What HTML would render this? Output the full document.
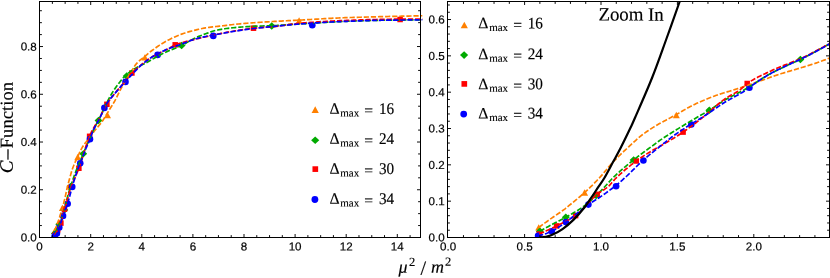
<!DOCTYPE html>
<html><head><meta charset="utf-8"><title>C-Function</title>
<style>html,body{margin:0;padding:0;background:#fff}body{width:830px;height:278px;overflow:hidden;font-family:"Liberation Sans",sans-serif}text{text-rendering:geometricPrecision;stroke:#000;stroke-width:.2px}g.s text{stroke:#000;stroke-width:.15px}svg{display:block;transform:translateZ(0);will-change:transform}</style>
</head><body>
<svg width="830" height="278" viewBox="0 0 830 278">
<defs><clipPath id="cl"><rect x="39.5" y="1.5" width="382.8" height="236"/></clipPath><clipPath id="cr"><rect x="447.5" y="1.5" width="382" height="236"/></clipPath></defs>
<rect width="830" height="278" fill="#fff"/>
<g clip-path="url(#cl)">
<path d="M54.73 227.63 L58.23 234.03 L51.23 234.03 Z" fill="#ff8000"/>
<path d="M62.41 204.70 L65.91 211.10 L58.91 211.10 Z" fill="#ff8000"/>
<path d="M77.74 153.78 L81.24 160.18 L74.24 160.18 Z" fill="#ff8000"/>
<path d="M107.50 111.90 L111.00 118.30 L104.00 118.30 Z" fill="#ff8000"/>
<path d="M144.90 54.20 L148.40 60.60 L141.40 60.60 Z" fill="#ff8000"/>
<path d="M299.10 17.30 L302.60 23.70 L295.60 23.70 Z" fill="#ff8000"/>
<path d="M54.92 229.73 L58.87 233.43 L54.92 237.13 L50.97 233.43 Z" fill="#00aa00"/>
<path d="M59.26 220.46 L63.21 224.16 L59.26 227.86 L55.31 224.16 Z" fill="#00aa00"/>
<path d="M64.35 206.27 L68.30 209.97 L64.35 213.67 L60.40 209.97 Z" fill="#00aa00"/>
<path d="M70.60 182.81 L74.55 186.51 L70.60 190.21 L66.65 186.51 Z" fill="#00aa00"/>
<path d="M83.26 150.16 L87.21 153.86 L83.26 157.56 L79.31 153.86 Z" fill="#00aa00"/>
<path d="M98.49 116.85 L102.44 120.55 L98.49 124.25 L94.54 120.55 Z" fill="#00aa00"/>
<path d="M126.70 72.30 L130.65 76.00 L126.70 79.70 L122.75 76.00 Z" fill="#00aa00"/>
<path d="M181.60 41.80 L185.55 45.50 L181.60 49.20 L177.65 45.50 Z" fill="#00aa00"/>
<path d="M271.70 22.30 L275.65 26.00 L271.70 29.70 L267.75 26.00 Z" fill="#00aa00"/>
<rect x="52.07" y="232.45" width="5.50" height="5.50" fill="#ff0000"/>
<rect x="54.98" y="227.13" width="5.50" height="5.50" fill="#ff0000"/>
<rect x="58.15" y="220.36" width="5.50" height="5.50" fill="#ff0000"/>
<rect x="61.76" y="206.37" width="5.50" height="5.50" fill="#ff0000"/>
<rect x="68.30" y="184.49" width="5.50" height="5.50" fill="#ff0000"/>
<rect x="76.13" y="165.50" width="5.50" height="5.50" fill="#ff0000"/>
<rect x="86.85" y="133.57" width="5.50" height="5.50" fill="#ff0000"/>
<rect x="104.15" y="101.55" width="5.50" height="5.50" fill="#ff0000"/>
<rect x="129.15" y="70.25" width="5.50" height="5.50" fill="#ff0000"/>
<rect x="172.45" y="42.05" width="5.50" height="5.50" fill="#ff0000"/>
<rect x="250.75" y="25.45" width="5.50" height="5.50" fill="#ff0000"/>
<rect x="397.35" y="16.75" width="5.50" height="5.50" fill="#ff0000"/>
<circle cx="54.63" cy="236.32" r="3.30" fill="#0000ff"/>
<circle cx="56.91" cy="233.43" r="3.30" fill="#0000ff"/>
<circle cx="59.26" cy="227.38" r="3.30" fill="#0000ff"/>
<circle cx="63.04" cy="215.88" r="3.30" fill="#0000ff"/>
<circle cx="67.67" cy="203.79" r="3.30" fill="#0000ff"/>
<circle cx="72.24" cy="186.91" r="3.30" fill="#0000ff"/>
<circle cx="80.25" cy="163.26" r="3.30" fill="#0000ff"/>
<circle cx="89.96" cy="139.14" r="3.30" fill="#0000ff"/>
<circle cx="104.40" cy="107.90" r="3.30" fill="#0000ff"/>
<circle cx="125.50" cy="81.90" r="3.30" fill="#0000ff"/>
<circle cx="157.60" cy="54.90" r="3.30" fill="#0000ff"/>
<circle cx="213.30" cy="35.90" r="3.30" fill="#0000ff"/>
<circle cx="312.30" cy="25.30" r="3.30" fill="#0000ff"/>
<path d="M54.73 230.93 L55.25 229.44 L55.77 227.96 L56.28 226.50 L56.80 225.05 L57.32 223.65 L57.83 222.28 L58.35 220.90 L58.87 219.46 L59.39 217.90 L59.90 216.22 L60.42 214.56 L60.94 212.92 L61.45 211.25 L61.97 209.52 L62.49 207.72 L63.00 205.82 L63.52 203.85 L64.04 201.81 L64.55 199.70 L65.07 197.52 L65.59 195.17 L66.11 192.72 L66.62 190.31 L67.14 188.03 L67.66 185.92 L68.17 183.89 L68.69 181.92 L69.21 180.01 L69.72 178.13 L70.24 176.25 L70.76 174.38 L71.28 172.57 L71.79 170.86 L72.31 169.30 L72.83 167.84 L73.34 166.48 L73.86 165.19 L74.38 163.95 L74.89 162.76 L75.41 161.64 L75.93 160.55 L76.44 159.47 L76.96 158.39 L77.48 157.31 L78.00 156.19 L78.51 155.01 L79.03 153.81 L79.55 152.62 L80.06 151.49 L80.58 150.46 L81.10 149.48 L81.61 148.55 L82.13 147.65 L82.65 146.79 L83.17 145.97 L83.68 145.18 L84.20 144.42 L84.72 143.72 L85.23 143.05 L85.75 142.42 L86.27 141.80 L86.78 141.19 L87.30 140.57 L87.82 139.93 L88.33 139.26 L88.85 138.59 L89.37 137.90 L89.89 137.21 L90.40 136.51 L90.92 135.81 L91.44 135.11 L91.95 134.39 L92.47 133.67 L92.99 132.94 L93.50 132.21 L94.02 131.50 L94.54 130.80 L95.05 130.14 L95.57 129.50 L96.09 128.89 L96.61 128.29 L97.12 127.69 L97.64 127.10 L98.16 126.50 L98.67 125.88 L99.19 125.27 L99.71 124.65 L100.22 124.02 L100.74 123.36 L101.26 122.67 L101.78 121.95 L102.29 121.21 L102.81 120.45 L103.33 119.67 L103.84 118.87 L104.36 118.06 L104.88 117.23 L105.39 116.38 L105.91 115.53 L106.43 114.67 L106.94 113.80 L107.46 112.93 L107.98 112.06 L108.50 111.20 L109.01 110.34 L109.53 109.49 L110.05 108.65 L110.56 107.82 L111.08 107.00 L111.60 106.19 L112.11 105.37 L112.63 104.54 L113.15 103.71 L113.67 102.85 L114.18 101.98 L114.70 101.08 L115.22 100.15 L115.73 99.18 L116.25 98.15 L117.97 94.56 L119.69 91.17 L121.41 87.91 L123.13 84.85 L124.85 81.97 L126.57 79.19 L128.29 76.47 L130.01 73.84 L131.73 71.11 L133.45 68.02 L135.17 65.20 L136.90 63.17 L138.62 61.49 L140.34 59.94 L142.06 58.54 L143.78 57.21 L145.50 55.79 L147.22 54.29 L148.94 52.87 L150.66 51.53 L152.38 50.25 L154.10 49.00 L155.82 47.76 L157.54 46.54 L159.26 45.36 L160.98 44.24 L162.70 43.20 L164.42 42.20 L166.14 41.23 L167.86 40.31 L169.58 39.42 L171.30 38.57 L173.02 37.76 L174.75 36.97 L176.47 36.21 L178.19 35.48 L179.91 34.78 L181.63 34.13 L183.35 33.52 L185.07 32.95 L186.79 32.42 L188.51 31.91 L190.23 31.43 L191.95 30.98 L193.67 30.53 L195.39 30.10 L197.11 29.67 L198.83 29.25 L200.55 28.85 L202.27 28.47 L203.99 28.13 L205.71 27.83 L207.43 27.57 L209.15 27.33 L210.87 27.12 L212.60 26.92 L214.32 26.73 L216.04 26.54 L217.76 26.35 L219.48 26.16 L221.20 25.96 L222.92 25.76 L224.64 25.55 L226.36 25.34 L228.08 25.14 L229.80 24.93 L231.52 24.73 L233.24 24.53 L234.96 24.34 L236.68 24.16 L238.40 23.98 L240.12 23.81 L241.84 23.66 L243.56 23.51 L245.28 23.37 L247.00 23.23 L248.72 23.10 L250.45 22.97 L252.17 22.84 L253.89 22.72 L255.61 22.60 L257.33 22.49 L259.05 22.38 L260.77 22.26 L262.49 22.16 L264.21 22.05 L265.93 21.94 L267.65 21.84 L269.37 21.74 L271.09 21.64 L272.81 21.53 L274.53 21.43 L276.25 21.33 L277.97 21.24 L279.69 21.14 L281.41 21.05 L283.13 20.96 L284.85 20.87 L286.57 20.78 L288.30 20.70 L290.02 20.61 L291.74 20.52 L293.46 20.44 L295.18 20.35 L296.90 20.26 L298.62 20.17 L300.34 20.08 L302.06 19.99 L303.78 19.89 L305.50 19.79 L307.22 19.69 L308.94 19.59 L310.66 19.49 L312.38 19.39 L314.10 19.28 L315.82 19.18 L317.54 19.07 L319.26 18.97 L320.98 18.87 L322.70 18.77 L324.42 18.67 L326.15 18.57 L327.87 18.48 L329.59 18.38 L331.31 18.29 L333.03 18.21 L334.75 18.13 L336.47 18.05 L338.19 17.97 L339.91 17.90 L341.63 17.84 L343.35 17.77 L345.07 17.71 L346.79 17.65 L348.51 17.59 L350.23 17.53 L351.95 17.48 L353.67 17.42 L355.39 17.37 L357.11 17.32 L358.83 17.27 L360.55 17.22 L362.27 17.17 L364.00 17.12 L365.72 17.07 L367.44 17.03 L369.16 16.98 L370.88 16.94 L372.60 16.89 L374.32 16.85 L376.04 16.80 L377.76 16.76 L379.48 16.71 L381.20 16.67 L382.92 16.63 L384.64 16.58 L386.36 16.54 L388.08 16.50 L389.80 16.46 L391.52 16.42 L393.24 16.38 L394.96 16.34 L396.68 16.30 L398.40 16.26 L400.12 16.22 L401.85 16.19 L403.57 16.15 L405.29 16.11 L407.01 16.08 L408.73 16.04 L410.45 16.00 L412.17 15.97 L413.89 15.93 L415.61 15.89 L417.33 15.86 L419.05 15.82 L420.77 15.78 L422.49 15.75 L424.21 15.71 L425.93 15.68 L427.65 15.64 L429.37 15.60 L431.09 15.57 L432.81 15.53 L434.53 15.50 L436.25 15.46 L437.97 15.43 L439.70 15.39 L441.42 15.36 L443.14 15.33 L444.86 15.29 L446.58 15.26 L448.30 15.22 L450.02 15.19 L451.74 15.16 L453.46 15.12 L455.18 15.09 L456.90 15.06 L458.62 15.03" fill="none" stroke="#ff8000" stroke-width="1.68" stroke-dasharray="5.2 1.9"/>
<path d="M54.92 233.43 L55.43 232.28 L55.95 231.14 L56.46 230.02 L56.98 228.91 L57.49 227.84 L58.01 226.78 L58.52 225.73 L59.04 224.65 L59.56 223.53 L60.07 222.40 L60.59 221.25 L61.10 220.04 L61.62 218.75 L62.13 217.34 L62.65 215.82 L63.16 214.18 L63.68 212.45 L64.19 210.63 L64.71 208.65 L65.22 206.50 L65.74 204.30 L66.26 202.10 L66.77 199.86 L67.29 197.77 L67.80 195.85 L68.32 194.01 L68.83 192.24 L69.35 190.53 L69.86 188.86 L70.38 187.22 L70.89 185.60 L71.41 184.04 L71.93 182.53 L72.44 181.04 L72.96 179.56 L73.47 178.07 L73.99 176.57 L74.50 175.09 L75.02 173.65 L75.53 172.26 L76.05 170.92 L76.56 169.63 L77.08 168.37 L77.59 167.12 L78.11 165.87 L78.63 164.63 L79.14 163.40 L79.66 162.18 L80.17 160.98 L80.69 159.77 L81.20 158.58 L81.72 157.41 L82.23 156.25 L82.75 155.07 L83.26 153.85 L83.78 152.55 L84.29 151.20 L84.81 149.83 L85.33 148.49 L85.84 147.23 L86.36 146.08 L86.87 145.00 L87.39 143.97 L87.90 142.95 L88.42 141.91 L88.93 140.83 L89.45 139.67 L89.96 138.43 L90.48 137.14 L91.00 135.83 L91.51 134.51 L92.03 133.21 L92.54 131.96 L93.06 130.79 L93.57 129.68 L94.09 128.62 L94.60 127.59 L95.12 126.59 L95.63 125.61 L96.15 124.65 L96.66 123.70 L97.18 122.77 L97.70 121.89 L98.21 121.00 L98.73 120.04 L99.24 119.03 L99.76 117.98 L100.27 116.91 L100.79 115.82 L101.30 114.71 L101.82 113.59 L102.33 112.47 L102.85 111.35 L103.36 110.24 L103.88 109.12 L104.40 107.97 L104.91 106.81 L105.43 105.66 L105.94 104.52 L106.46 103.42 L106.97 102.35 L107.49 101.34 L108.00 100.34 L108.52 99.35 L109.03 98.39 L109.55 97.44 L110.07 96.52 L110.58 95.61 L111.10 94.72 L111.61 93.85 L112.13 93.00 L112.64 92.17 L113.16 91.36 L113.67 90.56 L114.19 89.78 L114.70 89.01 L115.22 88.25 L115.73 87.51 L116.25 86.78 L117.97 84.44 L119.69 82.22 L121.41 80.07 L123.13 78.04 L124.85 76.21 L126.57 74.63 L128.29 73.19 L130.01 71.85 L131.73 70.62 L133.45 69.47 L135.17 68.39 L136.90 67.40 L138.62 66.50 L140.34 65.64 L142.06 64.82 L143.78 63.99 L145.50 63.14 L147.22 62.23 L148.94 61.26 L150.66 60.25 L152.38 59.24 L154.10 58.23 L155.82 57.25 L157.54 56.31 L159.26 55.39 L160.98 54.49 L162.70 53.60 L164.42 52.74 L166.14 51.91 L167.86 51.12 L169.58 50.39 L171.30 49.72 L173.02 49.09 L174.75 48.47 L176.47 47.82 L178.19 47.12 L179.91 46.36 L181.63 45.54 L183.35 44.64 L185.07 43.67 L186.79 42.65 L188.51 41.62 L190.23 40.60 L191.95 39.62 L193.67 38.70 L195.39 37.87 L197.11 37.10 L198.83 36.39 L200.55 35.70 L202.27 35.04 L203.99 34.40 L205.71 33.77 L207.43 33.13 L209.15 32.47 L210.87 31.84 L212.60 31.26 L214.32 30.77 L216.04 30.37 L217.76 30.01 L219.48 29.67 L221.20 29.35 L222.92 29.06 L224.64 28.79 L226.36 28.54 L228.08 28.31 L229.80 28.11 L231.52 27.92 L233.24 27.74 L234.96 27.58 L236.68 27.42 L238.40 27.27 L240.12 27.13 L241.84 26.99 L243.56 26.87 L245.28 26.75 L247.00 26.64 L248.72 26.54 L250.45 26.44 L252.17 26.36 L253.89 26.28 L255.61 26.21 L257.33 26.15 L259.05 26.09 L260.77 26.04 L262.49 26.00 L264.21 25.95 L265.93 25.90 L267.65 25.85 L269.37 25.79 L271.09 25.73 L272.81 25.66 L274.53 25.57 L276.25 25.48 L277.97 25.38 L279.69 25.28 L281.41 25.17 L283.13 25.06 L284.85 24.94 L286.57 24.82 L288.30 24.70 L290.02 24.57 L291.74 24.45 L293.46 24.33 L295.18 24.21 L296.90 24.10 L298.62 23.99 L300.34 23.88 L302.06 23.77 L303.78 23.67 L305.50 23.56 L307.22 23.45 L308.94 23.34 L310.66 23.24 L312.38 23.13 L314.10 23.02 L315.82 22.91 L317.54 22.80 L319.26 22.70 L320.98 22.59 L322.70 22.49 L324.42 22.39 L326.15 22.29 L327.87 22.20 L329.59 22.10 L331.31 22.01 L333.03 21.92 L334.75 21.84 L336.47 21.76 L338.19 21.68 L339.91 21.60 L341.63 21.53 L343.35 21.46 L345.07 21.39 L346.79 21.32 L348.51 21.26 L350.23 21.19 L351.95 21.12 L353.67 21.06 L355.39 20.99 L357.11 20.93 L358.83 20.87 L360.55 20.81 L362.27 20.76 L364.00 20.70 L365.72 20.65 L367.44 20.60 L369.16 20.55 L370.88 20.50 L372.60 20.46 L374.32 20.42 L376.04 20.38 L377.76 20.34 L379.48 20.31 L381.20 20.28 L382.92 20.25 L384.64 20.22 L386.36 20.20 L388.08 20.17 L389.80 20.15 L391.52 20.12 L393.24 20.10 L394.96 20.08 L396.68 20.06 L398.40 20.04 L400.12 20.02 L401.85 20.00 L403.57 19.98 L405.29 19.96 L407.01 19.95 L408.73 19.93 L410.45 19.91 L412.17 19.89 L413.89 19.87 L415.61 19.85 L417.33 19.83 L419.05 19.81 L420.77 19.79 L422.49 19.77 L424.21 19.75 L425.93 19.73 L427.65 19.70 L429.37 19.68 L431.09 19.66 L432.81 19.64 L434.53 19.62 L436.25 19.60 L437.97 19.58 L439.70 19.55 L441.42 19.53 L443.14 19.51 L444.86 19.49 L446.58 19.47 L448.30 19.45 L450.02 19.42 L451.74 19.40 L453.46 19.38 L455.18 19.36 L456.90 19.34 L458.62 19.32" fill="none" stroke="#00aa00" stroke-width="1.68" stroke-dasharray="5.2 1.9"/>
<path d="M54.82 235.20 L55.33 234.32 L55.85 233.41 L56.37 232.47 L56.88 231.51 L57.40 230.52 L57.91 229.51 L58.43 228.52 L58.95 227.53 L59.46 226.50 L59.98 225.39 L60.50 224.18 L61.01 222.80 L61.53 221.11 L62.04 219.10 L62.56 216.91 L63.08 214.66 L63.59 212.46 L64.11 210.45 L64.63 208.73 L65.14 207.33 L65.66 206.04 L66.17 204.60 L66.69 202.71 L67.21 200.41 L67.72 198.22 L68.24 196.31 L68.76 194.49 L69.27 192.74 L69.79 191.07 L70.30 189.46 L70.82 187.91 L71.34 186.43 L71.85 185.02 L72.37 183.67 L72.89 182.38 L73.40 181.13 L73.92 179.92 L74.43 178.80 L74.95 177.68 L75.47 176.50 L75.98 175.32 L76.50 174.12 L77.02 172.91 L77.53 171.66 L78.05 170.39 L78.56 169.07 L79.08 167.71 L79.60 166.28 L80.11 164.80 L80.63 163.28 L81.15 161.72 L81.66 160.15 L82.18 158.55 L82.69 156.88 L83.21 155.13 L83.73 153.34 L84.24 151.57 L84.76 149.84 L85.28 148.19 L85.79 146.67 L86.31 145.33 L86.82 144.16 L87.34 143.04 L87.86 141.86 L88.37 140.52 L88.89 138.80 L89.41 136.90 L89.92 135.46 L90.44 134.19 L90.95 133.04 L91.47 131.98 L91.99 130.98 L92.50 130.01 L93.02 129.05 L93.54 128.11 L94.05 127.20 L94.57 126.32 L95.08 125.47 L95.60 124.64 L96.12 123.82 L96.63 123.00 L97.15 122.20 L97.67 121.43 L98.18 120.63 L98.70 119.75 L99.21 118.79 L99.73 117.77 L100.25 116.71 L100.76 115.62 L101.28 114.52 L101.80 113.42 L102.31 112.34 L102.83 111.29 L103.34 110.30 L103.86 109.33 L104.38 108.36 L104.89 107.42 L105.41 106.49 L105.93 105.59 L106.44 104.73 L106.96 103.91 L107.47 103.12 L107.99 102.36 L108.51 101.61 L109.02 100.87 L109.54 100.16 L110.06 99.45 L110.57 98.76 L111.09 98.09 L111.60 97.42 L112.12 96.76 L112.64 96.11 L113.15 95.46 L113.67 94.82 L114.19 94.18 L114.70 93.55 L115.22 92.92 L115.73 92.28 L116.25 91.65 L117.97 89.62 L119.69 87.68 L121.41 85.77 L123.13 83.85 L124.85 81.88 L126.57 79.80 L128.29 77.58 L130.01 75.38 L131.73 73.38 L133.45 71.62 L135.17 69.99 L136.90 68.45 L138.62 66.98 L140.34 65.56 L142.06 64.17 L143.78 62.82 L145.50 61.50 L147.22 60.24 L148.94 59.04 L150.66 57.90 L152.38 56.83 L154.10 55.82 L155.82 54.85 L157.54 53.93 L159.26 53.05 L160.98 52.23 L162.70 51.43 L164.42 50.63 L166.14 49.83 L167.86 48.98 L169.58 48.05 L171.30 47.01 L173.02 45.97 L174.75 45.11 L176.47 44.44 L178.19 43.82 L179.91 43.26 L181.63 42.74 L183.35 42.25 L185.07 41.79 L186.79 41.35 L188.51 40.92 L190.23 40.50 L191.95 40.08 L193.67 39.66 L195.39 39.23 L197.11 38.79 L198.83 38.36 L200.55 37.93 L202.27 37.52 L203.99 37.11 L205.71 36.70 L207.43 36.31 L209.15 35.92 L210.87 35.54 L212.60 35.17 L214.32 34.81 L216.04 34.45 L217.76 34.10 L219.48 33.76 L221.20 33.42 L222.92 33.09 L224.64 32.76 L226.36 32.44 L228.08 32.13 L229.80 31.83 L231.52 31.53 L233.24 31.24 L234.96 30.94 L236.68 30.65 L238.40 30.35 L240.12 30.07 L241.84 29.78 L243.56 29.51 L245.28 29.25 L247.00 28.99 L248.72 28.76 L250.45 28.54 L252.17 28.33 L253.89 28.15 L255.61 27.99 L257.33 27.84 L259.05 27.70 L260.77 27.57 L262.49 27.45 L264.21 27.33 L265.93 27.22 L267.65 27.10 L269.37 26.98 L271.09 26.84 L272.81 26.70 L274.53 26.55 L276.25 26.37 L277.97 26.17 L279.69 25.95 L281.41 25.72 L283.13 25.47 L284.85 25.22 L286.57 24.96 L288.30 24.70 L290.02 24.44 L291.74 24.19 L293.46 23.95 L295.18 23.72 L296.90 23.51 L298.62 23.33 L300.34 23.17 L302.06 23.02 L303.78 22.88 L305.50 22.74 L307.22 22.61 L308.94 22.48 L310.66 22.35 L312.38 22.23 L314.10 22.11 L315.82 21.99 L317.54 21.88 L319.26 21.77 L320.98 21.67 L322.70 21.57 L324.42 21.47 L326.15 21.37 L327.87 21.28 L329.59 21.19 L331.31 21.10 L333.03 21.02 L334.75 20.94 L336.47 20.86 L338.19 20.78 L339.91 20.70 L341.63 20.63 L343.35 20.56 L345.07 20.49 L346.79 20.42 L348.51 20.35 L350.23 20.28 L351.95 20.22 L353.67 20.16 L355.39 20.09 L357.11 20.03 L358.83 19.97 L360.55 19.92 L362.27 19.86 L364.00 19.81 L365.72 19.75 L367.44 19.70 L369.16 19.66 L370.88 19.61 L372.60 19.57 L374.32 19.52 L376.04 19.48 L377.76 19.45 L379.48 19.41 L381.20 19.38 L382.92 19.34 L384.64 19.31 L386.36 19.28 L388.08 19.25 L389.80 19.22 L391.52 19.20 L393.24 19.17 L394.96 19.15 L396.68 19.13 L398.40 19.11 L400.12 19.10 L401.85 19.09 L403.57 19.08 L405.29 19.07 L407.01 19.06 L408.73 19.05 L410.45 19.05 L412.17 19.04 L413.89 19.03 L415.61 19.02 L417.33 19.02 L419.05 19.01 L420.77 18.99 L422.49 18.98 L424.21 18.97 L425.93 18.96 L427.65 18.95 L429.37 18.93 L431.09 18.92 L432.81 18.90 L434.53 18.89 L436.25 18.87 L437.97 18.85 L439.70 18.84 L441.42 18.82 L443.14 18.80 L444.86 18.78 L446.58 18.76 L448.30 18.75 L450.02 18.73 L451.74 18.70 L453.46 18.68 L455.18 18.66 L456.90 18.64 L458.62 18.62" fill="none" stroke="#ff0000" stroke-width="1.68" stroke-dasharray="5.2 1.9"/>
<path d="M54.63 236.32 L55.15 235.89 L55.67 235.30 L56.19 234.58 L56.70 233.77 L57.22 232.83 L57.74 231.63 L58.26 230.24 L58.77 228.77 L59.29 227.30 L59.81 225.81 L60.33 224.24 L60.85 222.61 L61.36 220.96 L61.88 219.33 L62.40 217.74 L62.92 216.24 L63.43 214.83 L63.95 213.52 L64.47 212.24 L64.99 210.93 L65.51 209.55 L66.02 208.11 L66.54 206.63 L67.06 205.09 L67.58 203.51 L68.10 201.85 L68.61 200.12 L69.13 198.32 L69.65 196.44 L70.17 194.46 L70.68 192.44 L71.20 190.42 L71.72 188.45 L72.24 186.59 L72.76 184.83 L73.27 183.15 L73.79 181.50 L74.31 179.88 L74.83 178.25 L75.34 176.61 L75.86 174.96 L76.38 173.35 L76.90 171.78 L77.42 170.30 L77.93 168.87 L78.45 167.49 L78.97 166.14 L79.49 164.83 L80.00 163.53 L80.52 162.26 L81.04 161.05 L81.56 159.84 L82.08 158.58 L82.59 157.25 L83.11 155.88 L83.63 154.49 L84.15 153.09 L84.66 151.70 L85.18 150.34 L85.70 149.03 L86.22 147.79 L86.74 146.63 L87.25 145.51 L87.77 144.41 L88.29 143.28 L88.81 142.08 L89.32 140.77 L89.84 139.24 L90.36 137.77 L90.88 136.33 L91.40 134.93 L91.91 133.57 L92.43 132.27 L92.95 131.04 L93.47 129.88 L93.98 128.79 L94.50 127.76 L95.02 126.76 L95.54 125.78 L96.06 124.83 L96.57 123.87 L97.09 122.92 L97.61 122.01 L98.13 121.09 L98.64 120.13 L99.16 119.13 L99.68 118.13 L100.20 117.10 L100.72 116.06 L101.23 114.99 L101.75 113.89 L102.27 112.76 L102.79 111.59 L103.31 110.37 L103.82 108.96 L104.34 107.55 L104.86 106.50 L105.38 105.58 L105.89 104.74 L106.41 103.97 L106.93 103.25 L107.45 102.55 L107.97 101.85 L108.48 101.14 L109.00 100.46 L109.52 99.80 L110.04 99.15 L110.55 98.51 L111.07 97.88 L111.59 97.27 L112.11 96.66 L112.63 96.06 L113.14 95.47 L113.66 94.87 L114.18 94.28 L114.70 93.68 L115.21 93.08 L115.73 92.48 L116.25 91.87 L117.97 89.86 L119.69 87.85 L121.41 85.87 L123.13 83.92 L124.85 82.01 L126.57 80.16 L128.29 78.37 L130.01 76.61 L131.73 74.84 L133.45 73.02 L135.17 71.18 L136.90 69.36 L138.62 67.59 L140.34 65.91 L142.06 64.37 L143.78 62.93 L145.50 61.56 L147.22 60.27 L148.94 59.05 L150.66 57.90 L152.38 56.82 L154.10 55.81 L155.82 54.85 L157.54 53.93 L159.26 53.02 L160.98 52.13 L162.70 51.26 L164.42 50.43 L166.14 49.64 L167.86 48.90 L169.58 48.22 L171.30 47.61 L173.02 47.04 L174.75 46.48 L176.47 45.92 L178.19 45.33 L179.91 44.70 L181.63 44.05 L183.35 43.37 L185.07 42.68 L186.79 42.00 L188.51 41.33 L190.23 40.69 L191.95 40.08 L193.67 39.52 L195.39 39.02 L197.11 38.55 L198.83 38.11 L200.55 37.69 L202.27 37.28 L203.99 36.89 L205.71 36.52 L207.43 36.16 L209.15 35.82 L210.87 35.48 L212.60 35.15 L214.32 34.83 L216.04 34.55 L217.76 34.27 L219.48 33.99 L221.20 33.68 L222.92 33.36 L224.64 33.02 L226.36 32.68 L228.08 32.35 L229.80 32.03 L231.52 31.73 L233.24 31.45 L234.96 31.17 L236.68 30.91 L238.40 30.64 L240.12 30.39 L241.84 30.14 L243.56 29.89 L245.28 29.65 L247.00 29.42 L248.72 29.19 L250.45 28.97 L252.17 28.75 L253.89 28.54 L255.61 28.34 L257.33 28.14 L259.05 27.94 L260.77 27.75 L262.49 27.57 L264.21 27.39 L265.93 27.21 L267.65 27.03 L269.37 26.86 L271.09 26.69 L272.81 26.52 L274.53 26.35 L276.25 26.18 L277.97 26.00 L279.69 25.83 L281.41 25.66 L283.13 25.49 L284.85 25.33 L286.57 25.16 L288.30 25.00 L290.02 24.84 L291.74 24.68 L293.46 24.53 L295.18 24.38 L296.90 24.24 L298.62 24.10 L300.34 23.98 L302.06 23.85 L303.78 23.72 L305.50 23.60 L307.22 23.48 L308.94 23.36 L310.66 23.24 L312.38 23.13 L314.10 23.01 L315.82 22.90 L317.54 22.79 L319.26 22.69 L320.98 22.58 L322.70 22.48 L324.42 22.38 L326.15 22.28 L327.87 22.19 L329.59 22.10 L331.31 22.01 L333.03 21.92 L334.75 21.84 L336.47 21.76 L338.19 21.68 L339.91 21.60 L341.63 21.53 L343.35 21.46 L345.07 21.39 L346.79 21.32 L348.51 21.25 L350.23 21.18 L351.95 21.12 L353.67 21.05 L355.39 20.99 L357.11 20.93 L358.83 20.87 L360.55 20.81 L362.27 20.75 L364.00 20.70 L365.72 20.65 L367.44 20.60 L369.16 20.55 L370.88 20.50 L372.60 20.46 L374.32 20.42 L376.04 20.38 L377.76 20.34 L379.48 20.31 L381.20 20.28 L382.92 20.25 L384.64 20.22 L386.36 20.20 L388.08 20.17 L389.80 20.15 L391.52 20.12 L393.24 20.10 L394.96 20.08 L396.68 20.06 L398.40 20.04 L400.12 20.02 L401.85 20.00 L403.57 19.98 L405.29 19.96 L407.01 19.95 L408.73 19.93 L410.45 19.91 L412.17 19.89 L413.89 19.87 L415.61 19.85 L417.33 19.83 L419.05 19.81 L420.77 19.79 L422.49 19.77 L424.21 19.75 L425.93 19.73 L427.65 19.70 L429.37 19.68 L431.09 19.66 L432.81 19.64 L434.53 19.62 L436.25 19.60 L437.97 19.58 L439.70 19.55 L441.42 19.53 L443.14 19.51 L444.86 19.49 L446.58 19.47 L448.30 19.45 L450.02 19.42 L451.74 19.40 L453.46 19.38 L455.18 19.36 L456.90 19.34 L458.62 19.32" fill="none" stroke="#0000ff" stroke-width="1.68" stroke-dasharray="5.2 1.9"/>
</g>
<g clip-path="url(#cr)">
<path d="M538.70 224.20 L542.20 230.60 L535.20 230.60 Z" fill="#ff8000"/>
<path d="M584.60 189.30 L588.10 195.70 L581.10 195.70 Z" fill="#ff8000"/>
<path d="M676.30 111.80 L679.80 118.20 L672.80 118.20 Z" fill="#ff8000"/>
<path d="M854.27 48.06 L857.77 54.46 L850.77 54.46 Z" fill="#ff8000"/>
<path d="M539.80 227.60 L543.75 231.30 L539.80 235.00 L535.85 231.30 Z" fill="#00aa00"/>
<path d="M565.80 213.50 L569.75 217.20 L565.80 220.90 L561.85 217.20 Z" fill="#00aa00"/>
<path d="M596.20 191.90 L600.15 195.60 L596.20 199.30 L592.25 195.60 Z" fill="#00aa00"/>
<path d="M633.60 156.20 L637.55 159.90 L633.60 163.60 L629.65 159.90 Z" fill="#00aa00"/>
<path d="M709.30 106.50 L713.25 110.20 L709.30 113.90 L705.35 110.20 Z" fill="#00aa00"/>
<path d="M800.40 55.80 L804.35 59.50 L800.40 63.20 L796.45 59.50 Z" fill="#00aa00"/>
<path d="M969.10 -12.00 L973.05 -8.30 L969.10 -4.60 L965.15 -8.30 Z" fill="#00aa00"/>
<rect x="536.45" y="231.25" width="5.50" height="5.50" fill="#ff0000"/>
<rect x="553.85" y="223.15" width="5.50" height="5.50" fill="#ff0000"/>
<rect x="572.85" y="212.85" width="5.50" height="5.50" fill="#ff0000"/>
<rect x="594.45" y="191.55" width="5.50" height="5.50" fill="#ff0000"/>
<rect x="633.55" y="158.25" width="5.50" height="5.50" fill="#ff0000"/>
<rect x="680.35" y="129.35" width="5.50" height="5.50" fill="#ff0000"/>
<rect x="744.45" y="80.75" width="5.50" height="5.50" fill="#ff0000"/>
<rect x="847.93" y="32.02" width="5.50" height="5.50" fill="#ff0000"/>
<circle cx="538.10" cy="235.70" r="3.30" fill="#0000ff"/>
<circle cx="551.70" cy="231.30" r="3.30" fill="#0000ff"/>
<circle cx="565.80" cy="222.10" r="3.30" fill="#0000ff"/>
<circle cx="588.40" cy="204.60" r="3.30" fill="#0000ff"/>
<circle cx="616.10" cy="186.20" r="3.30" fill="#0000ff"/>
<circle cx="643.40" cy="160.50" r="3.30" fill="#0000ff"/>
<circle cx="691.30" cy="124.50" r="3.30" fill="#0000ff"/>
<circle cx="749.40" cy="87.80" r="3.30" fill="#0000ff"/>
<circle cx="835.73" cy="40.25" r="3.30" fill="#0000ff"/>
<path d="M538.70 227.50 L539.88 226.63 L541.07 225.76 L542.25 224.89 L543.44 224.03 L544.62 223.17 L545.81 222.31 L546.99 221.46 L548.18 220.61 L549.36 219.77 L550.54 218.92 L551.73 218.09 L552.91 217.27 L554.10 216.46 L555.28 215.66 L556.47 214.86 L557.65 214.07 L558.84 213.27 L560.02 212.46 L561.21 211.64 L562.39 210.80 L563.57 209.94 L564.76 209.06 L565.94 208.13 L567.13 207.18 L568.31 206.20 L569.50 205.22 L570.68 204.24 L571.87 203.28 L573.05 202.31 L574.23 201.35 L575.42 200.39 L576.60 199.43 L577.79 198.46 L578.97 197.47 L580.16 196.48 L581.34 195.47 L582.53 194.45 L583.71 193.40 L584.89 192.33 L586.08 191.24 L587.26 190.14 L588.45 189.02 L589.63 187.88 L590.82 186.72 L592.00 185.55 L593.19 184.36 L594.37 183.16 L595.55 181.94 L596.74 180.71 L597.92 179.47 L599.11 178.21 L600.29 176.92 L601.48 175.58 L602.66 174.21 L603.85 172.80 L605.03 171.38 L606.22 169.95 L607.40 168.53 L608.58 167.11 L609.77 165.71 L610.95 164.35 L612.14 163.03 L613.32 161.76 L614.51 160.52 L615.69 159.30 L616.88 158.10 L618.06 156.91 L619.24 155.74 L620.43 154.59 L621.61 153.45 L622.80 152.32 L623.98 151.20 L625.17 150.09 L626.35 148.99 L627.54 147.89 L628.72 146.80 L629.90 145.70 L631.09 144.60 L632.27 143.51 L633.46 142.42 L634.64 141.34 L635.83 140.27 L637.01 139.22 L638.20 138.19 L639.38 137.19 L640.57 136.21 L641.75 135.26 L642.93 134.35 L644.12 133.47 L645.30 132.61 L646.49 131.78 L647.67 130.96 L648.86 130.16 L650.04 129.38 L651.23 128.62 L652.41 127.86 L653.59 127.13 L654.78 126.40 L655.96 125.68 L657.15 124.97 L658.33 124.28 L659.52 123.60 L660.70 122.94 L661.89 122.29 L663.07 121.66 L664.25 121.02 L665.44 120.40 L666.62 119.77 L667.81 119.14 L668.99 118.50 L670.18 117.87 L671.36 117.24 L672.55 116.61 L673.73 115.98 L674.92 115.35 L676.10 114.71 L677.28 114.05 L678.47 113.38 L679.65 112.69 L680.84 112.00 L682.02 111.30 L683.21 110.59 L684.39 109.89 L685.58 109.19 L686.76 108.50 L687.94 107.83 L689.13 107.16 L690.31 106.52 L691.50 105.90 L692.68 105.31 L693.87 104.73 L695.05 104.16 L696.24 103.60 L697.42 103.05 L698.60 102.51 L699.79 101.97 L700.97 101.44 L702.16 100.92 L703.34 100.41 L704.53 99.91 L705.71 99.41 L706.90 98.93 L708.08 98.45 L709.26 97.98 L710.45 97.51 L711.63 97.06 L712.82 96.61 L714.00 96.17 L715.19 95.74 L716.37 95.33 L717.56 94.92 L718.74 94.52 L719.93 94.13 L721.11 93.75 L722.29 93.38 L723.48 93.01 L724.66 92.64 L725.85 92.28 L727.03 91.92 L728.22 91.57 L729.40 91.21 L730.59 90.85 L731.77 90.49 L732.95 90.13 L734.14 89.76 L735.32 89.39 L736.51 89.02 L737.69 88.63 L738.88 88.24 L740.06 87.85 L741.25 87.46 L742.43 87.06 L743.61 86.66 L744.80 86.26 L745.98 85.86 L747.17 85.45 L748.35 85.05 L749.54 84.64 L750.72 84.24 L751.91 83.83 L753.09 83.42 L754.28 83.01 L755.46 82.60 L756.64 82.20 L757.83 81.79 L759.01 81.37 L760.20 80.96 L761.38 80.54 L762.57 80.12 L763.75 79.69 L764.94 79.27 L766.12 78.84 L767.30 78.42 L768.49 77.99 L769.67 77.57 L770.86 77.15 L772.04 76.73 L773.23 76.31 L774.41 75.90 L775.60 75.50 L776.78 75.10 L777.96 74.70 L779.15 74.32 L780.33 73.94 L781.52 73.56 L782.70 73.20 L783.89 72.83 L785.07 72.48 L786.26 72.12 L787.44 71.77 L788.63 71.42 L789.81 71.07 L790.99 70.73 L792.18 70.38 L793.36 70.04 L794.55 69.69 L795.73 69.35 L796.92 69.00 L798.10 68.65 L799.29 68.29 L800.47 67.93 L801.65 67.57 L802.84 67.21 L804.02 66.85 L805.21 66.49 L806.39 66.13 L807.58 65.77 L808.76 65.40 L809.95 65.04 L811.13 64.66 L812.31 64.28 L813.50 63.90 L814.68 63.51 L815.87 63.11 L817.05 62.70 L818.24 62.28 L819.42 61.86 L820.61 61.43 L821.79 61.00 L822.97 60.56 L824.16 60.12 L825.34 59.68 L826.53 59.23 L827.71 58.77 L828.90 58.32 L830.08 57.86 L831.27 57.39 L832.45 56.93 L833.64 56.45 L834.82 55.98 L836.00 55.50 L837.19 55.02 L838.37 54.53 L839.56 54.04 L840.74 53.55 L841.93 53.06 L843.11 52.56 L844.30 52.06 L845.48 51.56" fill="none" stroke="#ff8000" stroke-width="1.68" stroke-dasharray="5.2 1.9"/>
<path d="M539.80 231.30 L540.98 230.63 L542.16 229.96 L543.34 229.29 L544.52 228.63 L545.70 227.97 L546.88 227.31 L548.06 226.66 L549.24 226.01 L550.42 225.36 L551.60 224.72 L552.78 224.08 L553.96 223.45 L555.14 222.83 L556.32 222.21 L557.50 221.60 L558.68 220.99 L559.86 220.38 L561.04 219.76 L562.22 219.14 L563.40 218.51 L564.58 217.87 L565.77 217.22 L566.95 216.56 L568.13 215.91 L569.31 215.25 L570.49 214.60 L571.67 213.93 L572.85 213.26 L574.03 212.58 L575.21 211.89 L576.39 211.18 L577.57 210.45 L578.75 209.70 L579.93 208.92 L581.11 208.13 L582.29 207.30 L583.47 206.45 L584.65 205.57 L585.83 204.66 L587.01 203.73 L588.19 202.78 L589.37 201.80 L590.55 200.80 L591.73 199.79 L592.91 198.75 L594.09 197.69 L595.27 196.61 L596.45 195.50 L597.63 194.34 L598.81 193.13 L599.99 191.89 L601.17 190.62 L602.35 189.34 L603.53 188.05 L604.71 186.77 L605.89 185.50 L607.07 184.22 L608.25 182.91 L609.43 181.59 L610.61 180.29 L611.79 179.03 L612.97 177.82 L614.15 176.67 L615.33 175.54 L616.52 174.43 L617.70 173.34 L618.88 172.27 L620.06 171.21 L621.24 170.17 L622.42 169.14 L623.60 168.13 L624.78 167.13 L625.96 166.14 L627.14 165.15 L628.32 164.18 L629.50 163.21 L630.68 162.25 L631.86 161.30 L633.04 160.35 L634.22 159.41 L635.40 158.48 L636.58 157.56 L637.76 156.65 L638.94 155.76 L640.12 154.87 L641.30 153.99 L642.48 153.12 L643.66 152.25 L644.84 151.39 L646.02 150.53 L647.20 149.67 L648.38 148.80 L649.56 147.93 L650.74 147.06 L651.92 146.19 L653.10 145.32 L654.28 144.45 L655.46 143.58 L656.64 142.72 L657.82 141.87 L659.00 141.03 L660.18 140.19 L661.36 139.37 L662.54 138.57 L663.72 137.78 L664.90 137.00 L666.08 136.23 L667.27 135.47 L668.45 134.72 L669.63 133.97 L670.81 133.23 L671.99 132.50 L673.17 131.77 L674.35 131.04 L675.53 130.31 L676.71 129.59 L677.89 128.86 L679.07 128.14 L680.25 127.41 L681.43 126.69 L682.61 125.97 L683.79 125.26 L684.97 124.54 L686.15 123.83 L687.33 123.12 L688.51 122.42 L689.69 121.71 L690.87 121.01 L692.05 120.31 L693.23 119.61 L694.41 118.91 L695.59 118.21 L696.77 117.52 L697.95 116.83 L699.13 116.15 L700.31 115.47 L701.49 114.80 L702.67 114.12 L703.85 113.44 L705.03 112.75 L706.21 112.06 L707.39 111.36 L708.57 110.65 L709.75 109.92 L710.93 109.17 L712.11 108.41 L713.29 107.63 L714.47 106.84 L715.65 106.04 L716.83 105.24 L718.01 104.44 L719.20 103.65 L720.38 102.86 L721.56 102.09 L722.74 101.34 L723.92 100.61 L725.10 99.90 L726.28 99.22 L727.46 98.56 L728.64 97.92 L729.82 97.29 L731.00 96.67 L732.18 96.06 L733.36 95.46 L734.54 94.87 L735.72 94.27 L736.90 93.68 L738.08 93.08 L739.26 92.48 L740.44 91.86 L741.62 91.24 L742.80 90.60 L743.98 89.95 L745.16 89.28 L746.34 88.59 L747.52 87.88 L748.70 87.16 L749.88 86.42 L751.06 85.67 L752.24 84.92 L753.42 84.15 L754.60 83.39 L755.78 82.62 L756.96 81.85 L758.14 81.08 L759.32 80.31 L760.50 79.56 L761.68 78.81 L762.86 78.07 L764.04 77.34 L765.22 76.63 L766.40 75.93 L767.58 75.26 L768.76 74.60 L769.95 73.96 L771.13 73.32 L772.31 72.70 L773.49 72.08 L774.67 71.47 L775.85 70.87 L777.03 70.27 L778.21 69.69 L779.39 69.10 L780.57 68.53 L781.75 67.96 L782.93 67.39 L784.11 66.82 L785.29 66.26 L786.47 65.70 L787.65 65.15 L788.83 64.60 L790.01 64.04 L791.19 63.50 L792.37 62.97 L793.55 62.45 L794.73 61.94 L795.91 61.43 L797.09 60.91 L798.27 60.39 L799.45 59.85 L800.63 59.29 L801.81 58.72 L802.99 58.13 L804.17 57.54 L805.35 56.95 L806.53 56.34 L807.71 55.73 L808.89 55.11 L810.07 54.48 L811.25 53.85 L812.43 53.22 L813.61 52.58 L814.79 51.94 L815.97 51.29 L817.15 50.64 L818.33 49.99 L819.51 49.34 L820.70 48.69 L821.88 48.03 L823.06 47.38 L824.24 46.73 L825.42 46.08 L826.60 45.43 L827.78 44.78 L828.96 44.13 L830.14 43.49 L831.32 42.83 L832.50 42.17 L833.68 41.51 L834.86 40.84 L836.04 40.17 L837.22 39.49 L838.40 38.82 L839.58 38.14 L840.76 37.47 L841.94 36.80 L843.12 36.13 L844.30 35.47 L845.48 34.82" fill="none" stroke="#00aa00" stroke-width="1.68" stroke-dasharray="5.2 1.9"/>
<path d="M539.20 234.00 L540.38 233.49 L541.57 232.97 L542.75 232.45 L543.93 231.92 L545.11 231.39 L546.30 230.85 L547.48 230.30 L548.66 229.75 L549.84 229.19 L551.03 228.63 L552.21 228.06 L553.39 227.49 L554.57 226.91 L555.76 226.32 L556.94 225.73 L558.12 225.15 L559.30 224.57 L560.49 223.99 L561.67 223.42 L562.85 222.84 L564.03 222.26 L565.22 221.67 L566.40 221.06 L567.58 220.44 L568.76 219.80 L569.95 219.15 L571.13 218.46 L572.31 217.75 L573.49 217.01 L574.68 216.23 L575.86 215.42 L577.04 214.52 L578.22 213.54 L579.41 212.48 L580.59 211.36 L581.77 210.17 L582.95 208.94 L584.14 207.67 L585.32 206.38 L586.50 205.07 L587.68 203.75 L588.87 202.44 L590.05 201.14 L591.23 199.87 L592.41 198.64 L593.60 197.45 L594.78 196.32 L595.96 195.25 L597.14 194.26 L598.33 193.36 L599.51 192.53 L600.69 191.75 L601.88 190.99 L603.06 190.24 L604.24 189.48 L605.42 188.68 L606.61 187.82 L607.79 186.88 L608.97 185.82 L610.15 184.61 L611.34 183.31 L612.52 181.95 L613.70 180.59 L614.88 179.26 L616.07 178.02 L617.25 176.89 L618.43 175.78 L619.61 174.69 L620.80 173.61 L621.98 172.55 L623.16 171.51 L624.34 170.49 L625.53 169.48 L626.71 168.49 L627.89 167.51 L629.07 166.55 L630.26 165.61 L631.44 164.68 L632.62 163.76 L633.80 162.86 L634.99 161.97 L636.17 161.10 L637.35 160.24 L638.53 159.39 L639.72 158.57 L640.90 157.75 L642.08 156.95 L643.26 156.17 L644.45 155.40 L645.63 154.63 L646.81 153.88 L647.99 153.14 L649.18 152.41 L650.36 151.69 L651.54 150.97 L652.72 150.27 L653.91 149.59 L655.09 148.94 L656.27 148.29 L657.45 147.65 L658.64 147.00 L659.82 146.33 L661.00 145.65 L662.19 144.96 L663.37 144.27 L664.55 143.58 L665.73 142.89 L666.92 142.20 L668.10 141.50 L669.28 140.80 L670.46 140.09 L671.65 139.38 L672.83 138.66 L674.01 137.94 L675.19 137.21 L676.38 136.47 L677.56 135.72 L678.74 134.97 L679.92 134.20 L681.11 133.43 L682.29 132.64 L683.47 131.85 L684.65 131.04 L685.84 130.21 L687.02 129.38 L688.20 128.53 L689.38 127.67 L690.57 126.79 L691.75 125.91 L692.93 125.02 L694.11 124.12 L695.30 123.22 L696.48 122.31 L697.66 121.39 L698.84 120.47 L700.03 119.55 L701.21 118.62 L702.39 117.69 L703.57 116.74 L704.76 115.77 L705.94 114.77 L707.12 113.76 L708.30 112.74 L709.49 111.71 L710.67 110.67 L711.85 109.63 L713.03 108.59 L714.22 107.55 L715.40 106.52 L716.58 105.50 L717.76 104.50 L718.95 103.51 L720.13 102.55 L721.31 101.61 L722.49 100.69 L723.68 99.81 L724.86 98.97 L726.04 98.16 L727.23 97.41 L728.41 96.69 L729.59 96.01 L730.77 95.34 L731.96 94.69 L733.14 94.04 L734.32 93.38 L735.50 92.71 L736.69 92.00 L737.87 91.27 L739.05 90.49 L740.23 89.65 L741.42 88.70 L742.60 87.62 L743.78 86.49 L744.96 85.36 L746.15 84.31 L747.33 83.41 L748.51 82.61 L749.69 81.83 L750.88 81.09 L752.06 80.37 L753.24 79.68 L754.42 79.01 L755.61 78.36 L756.79 77.73 L757.97 77.12 L759.15 76.52 L760.34 75.94 L761.52 75.36 L762.70 74.79 L763.88 74.23 L765.07 73.67 L766.25 73.12 L767.43 72.56 L768.61 72.00 L769.80 71.44 L770.98 70.90 L772.16 70.37 L773.34 69.84 L774.53 69.32 L775.71 68.81 L776.89 68.30 L778.07 67.80 L779.26 67.31 L780.44 66.82 L781.62 66.33 L782.80 65.85 L783.99 65.37 L785.17 64.89 L786.35 64.41 L787.54 63.94 L788.72 63.46 L789.90 62.98 L791.08 62.51 L792.27 62.05 L793.45 61.60 L794.63 61.16 L795.81 60.71 L797.00 60.25 L798.18 59.78 L799.36 59.29 L800.54 58.77 L801.73 58.24 L802.91 57.69 L804.09 57.12 L805.27 56.55 L806.46 55.96 L807.64 55.35 L808.82 54.74 L810.00 54.12 L811.19 53.49 L812.37 52.86 L813.55 52.23 L814.73 51.58 L815.92 50.94 L817.10 50.30 L818.28 49.66 L819.46 49.02 L820.65 48.38 L821.83 47.75 L823.01 47.12 L824.19 46.51 L825.38 45.90 L826.56 45.30 L827.74 44.71 L828.92 44.13 L830.11 43.57 L831.29 43.00 L832.47 42.44 L833.65 41.87 L834.84 41.31 L836.02 40.75 L837.20 40.20 L838.38 39.65 L839.57 39.10 L840.75 38.56 L841.93 38.03 L843.11 37.50 L844.30 36.98 L845.48 36.46" fill="none" stroke="#ff0000" stroke-width="1.68" stroke-dasharray="5.2 1.9"/>
<path d="M538.10 235.70 L539.29 235.49 L540.47 235.23 L541.66 234.94 L542.85 234.61 L544.03 234.24 L545.22 233.85 L546.41 233.43 L547.59 232.98 L548.78 232.52 L549.97 232.03 L551.15 231.53 L552.34 231.01 L553.53 230.42 L554.72 229.77 L555.90 229.06 L557.09 228.30 L558.28 227.51 L559.46 226.68 L560.65 225.83 L561.84 224.97 L563.02 224.10 L564.21 223.24 L565.40 222.39 L566.58 221.54 L567.77 220.68 L568.96 219.79 L570.14 218.89 L571.33 217.97 L572.52 217.03 L573.70 216.09 L574.89 215.14 L576.08 214.18 L577.26 213.22 L578.45 212.26 L579.64 211.30 L580.82 210.35 L582.01 209.41 L583.20 208.47 L584.39 207.56 L585.57 206.66 L586.76 205.78 L587.95 204.92 L589.13 204.09 L590.32 203.28 L591.51 202.50 L592.69 201.73 L593.88 200.98 L595.07 200.23 L596.25 199.48 L597.44 198.73 L598.63 197.97 L599.81 197.21 L601.00 196.42 L602.19 195.62 L603.37 194.79 L604.56 193.96 L605.75 193.11 L606.93 192.26 L608.12 191.39 L609.31 190.52 L610.49 189.64 L611.68 188.74 L612.87 187.83 L614.05 186.91 L615.24 185.98 L616.43 185.04 L617.62 184.07 L618.80 183.09 L619.99 182.09 L621.18 181.07 L622.36 180.03 L623.55 178.99 L624.74 177.93 L625.92 176.85 L627.11 175.75 L628.30 174.62 L629.48 173.48 L630.67 172.32 L631.86 171.14 L633.04 169.96 L634.23 168.78 L635.42 167.60 L636.60 166.42 L637.79 165.26 L638.98 164.10 L640.16 162.97 L641.35 161.86 L642.54 160.77 L643.72 159.71 L644.91 158.68 L646.10 157.67 L647.29 156.67 L648.47 155.68 L649.66 154.71 L650.85 153.74 L652.03 152.79 L653.22 151.84 L654.41 150.89 L655.59 149.94 L656.78 149.00 L657.97 148.05 L659.15 147.09 L660.34 146.14 L661.53 145.18 L662.71 144.21 L663.90 143.25 L665.09 142.30 L666.27 141.35 L667.46 140.41 L668.65 139.48 L669.83 138.56 L671.02 137.66 L672.21 136.77 L673.39 135.90 L674.58 135.05 L675.77 134.21 L676.96 133.39 L678.14 132.57 L679.33 131.76 L680.52 130.96 L681.70 130.17 L682.89 129.39 L684.08 128.61 L685.26 127.84 L686.45 127.08 L687.64 126.32 L688.82 125.57 L690.01 124.81 L691.20 124.07 L692.38 123.33 L693.57 122.60 L694.76 121.89 L695.94 121.19 L697.13 120.49 L698.32 119.78 L699.50 119.07 L700.69 118.34 L701.88 117.60 L703.06 116.84 L704.25 116.07 L705.44 115.28 L706.62 114.49 L707.81 113.69 L709.00 112.88 L710.19 112.07 L711.37 111.26 L712.56 110.44 L713.75 109.62 L714.93 108.81 L716.12 108.00 L717.31 107.19 L718.49 106.39 L719.68 105.59 L720.87 104.81 L722.05 104.03 L723.24 103.27 L724.43 102.52 L725.61 101.78 L726.80 101.07 L727.99 100.38 L729.17 99.70 L730.36 99.04 L731.55 98.39 L732.73 97.74 L733.92 97.10 L735.11 96.46 L736.29 95.81 L737.48 95.16 L738.67 94.50 L739.86 93.82 L741.04 93.13 L742.23 92.42 L743.42 91.69 L744.60 90.93 L745.79 90.14 L746.98 89.27 L748.16 88.34 L749.35 87.44 L750.54 86.59 L751.72 85.74 L752.91 84.90 L754.10 84.06 L755.28 83.23 L756.47 82.41 L757.66 81.59 L758.84 80.79 L760.03 80.00 L761.22 79.21 L762.40 78.45 L763.59 77.69 L764.78 76.95 L765.96 76.23 L767.15 75.52 L768.34 74.84 L769.53 74.17 L770.71 73.51 L771.90 72.87 L773.09 72.24 L774.27 71.62 L775.46 71.02 L776.65 70.42 L777.83 69.83 L779.02 69.25 L780.21 68.68 L781.39 68.11 L782.58 67.54 L783.77 66.98 L784.95 66.42 L786.14 65.86 L787.33 65.31 L788.51 64.75 L789.70 64.19 L790.89 63.63 L792.07 63.09 L793.26 62.55 L794.45 62.02 L795.63 61.49 L796.82 60.96 L798.01 60.42 L799.19 59.87 L800.38 59.31 L801.57 58.73 L802.76 58.15 L803.94 57.57 L805.13 56.99 L806.32 56.40 L807.50 55.82 L808.69 55.22 L809.88 54.63 L811.06 54.02 L812.25 53.42 L813.44 52.81 L814.62 52.19 L815.81 51.57 L817.00 50.94 L818.18 50.30 L819.37 49.66 L820.56 49.01 L821.74 48.35 L822.93 47.68 L824.12 47.00 L825.30 46.32 L826.49 45.62 L827.68 44.92 L828.86 44.20 L830.05 43.45 L831.24 42.63 L832.43 41.76 L833.61 40.90 L834.80 40.09 L835.99 39.37 L837.17 38.75 L838.36 38.17 L839.55 37.61 L840.73 37.08 L841.92 36.56 L843.11 36.07 L844.29 35.59 L845.48 35.13" fill="none" stroke="#0000ff" stroke-width="1.68" stroke-dasharray="5.2 1.9"/>
<path d="M539.90 237.50 C540.83 237.38 543.53 237.20 545.50 236.80 C547.47 236.40 548.87 236.38 551.70 235.10 C554.53 233.82 558.88 231.63 562.50 229.10 C566.12 226.57 569.78 223.47 573.40 219.90 C577.02 216.33 581.15 211.52 584.20 207.70 C587.25 203.88 589.37 200.42 591.70 197.00 C594.03 193.58 596.07 190.40 598.20 187.20 C600.33 184.00 602.03 181.98 604.50 177.80 C606.97 173.62 610.32 167.07 613.00 162.10 C615.68 157.13 617.77 153.55 620.60 148.00 C623.43 142.45 627.62 133.80 630.00 128.80 C632.38 123.80 631.23 126.47 634.90 118.00 C638.57 109.53 646.82 91.00 652.00 78.00 C657.18 65.00 661.38 52.75 666.00 40.00 C670.62 27.25 676.70 9.83 679.70 1.50 C682.70 -6.83 683.28 -8.08 684.00 -10.00" fill="none" stroke="#000" stroke-width="2.2"/>
</g>
<rect x="39.5" y="1.5" width="381.0" height="236.0" fill="none" stroke="#000" stroke-width="1"/>
<rect x="447.5" y="1.5" width="382.0" height="236.0" fill="none" stroke="#000" stroke-width="1"/>
<path d="M52.38 237.50 v-2.40 M52.38 1.50 v2.40 M65.15 237.50 v-2.40 M65.15 1.50 v2.40 M77.93 237.50 v-2.40 M77.93 1.50 v2.40 M90.70 237.50 v-3.50 M90.70 1.50 v3.50 M103.47 237.50 v-2.40 M103.47 1.50 v2.40 M116.25 237.50 v-2.40 M116.25 1.50 v2.40 M129.03 237.50 v-2.40 M129.03 1.50 v2.40 M141.80 237.50 v-3.50 M141.80 1.50 v3.50 M154.58 237.50 v-2.40 M154.58 1.50 v2.40 M167.35 237.50 v-2.40 M167.35 1.50 v2.40 M180.12 237.50 v-2.40 M180.12 1.50 v2.40 M192.90 237.50 v-3.50 M192.90 1.50 v3.50 M205.68 237.50 v-2.40 M205.68 1.50 v2.40 M218.45 237.50 v-2.40 M218.45 1.50 v2.40 M231.22 237.50 v-2.40 M231.22 1.50 v2.40 M244.00 237.50 v-3.50 M244.00 1.50 v3.50 M256.78 237.50 v-2.40 M256.78 1.50 v2.40 M269.55 237.50 v-2.40 M269.55 1.50 v2.40 M282.32 237.50 v-2.40 M282.32 1.50 v2.40 M295.10 237.50 v-3.50 M295.10 1.50 v3.50 M307.88 237.50 v-2.40 M307.88 1.50 v2.40 M320.65 237.50 v-2.40 M320.65 1.50 v2.40 M333.43 237.50 v-2.40 M333.43 1.50 v2.40 M346.20 237.50 v-3.50 M346.20 1.50 v3.50 M358.98 237.50 v-2.40 M358.98 1.50 v2.40 M371.75 237.50 v-2.40 M371.75 1.50 v2.40 M384.53 237.50 v-2.40 M384.53 1.50 v2.40 M397.30 237.50 v-3.50 M397.30 1.50 v3.50 M410.08 237.50 v-2.40 M410.08 1.50 v2.40 M39.50 225.56 h2.40 M420.50 225.56 h-2.40 M39.50 213.63 h2.40 M420.50 213.63 h-2.40 M39.50 201.69 h2.40 M420.50 201.69 h-2.40 M39.50 189.76 h3.50 M420.50 189.76 h-3.50 M39.50 177.82 h2.40 M420.50 177.82 h-2.40 M39.50 165.89 h2.40 M420.50 165.89 h-2.40 M39.50 153.95 h2.40 M420.50 153.95 h-2.40 M39.50 142.02 h3.50 M420.50 142.02 h-3.50 M39.50 130.09 h2.40 M420.50 130.09 h-2.40 M39.50 118.15 h2.40 M420.50 118.15 h-2.40 M39.50 106.22 h2.40 M420.50 106.22 h-2.40 M39.50 94.28 h3.50 M420.50 94.28 h-3.50 M39.50 82.34 h2.40 M420.50 82.34 h-2.40 M39.50 70.41 h2.40 M420.50 70.41 h-2.40 M39.50 58.48 h2.40 M420.50 58.48 h-2.40 M39.50 46.54 h3.50 M420.50 46.54 h-3.50 M39.50 34.60 h2.40 M420.50 34.60 h-2.40 M39.50 22.67 h2.40 M420.50 22.67 h-2.40 M39.50 10.73 h2.40 M420.50 10.73 h-2.40" stroke="#000" stroke-width="0.95" fill="none"/>
<path d="M463.48 237.50 v-2.40 M463.48 1.50 v2.40 M478.76 237.50 v-2.40 M478.76 1.50 v2.40 M494.04 237.50 v-2.40 M494.04 1.50 v2.40 M509.32 237.50 v-2.40 M509.32 1.50 v2.40 M524.60 237.50 v-3.50 M524.60 1.50 v3.50 M539.88 237.50 v-2.40 M539.88 1.50 v2.40 M555.16 237.50 v-2.40 M555.16 1.50 v2.40 M570.44 237.50 v-2.40 M570.44 1.50 v2.40 M585.72 237.50 v-2.40 M585.72 1.50 v2.40 M601.00 237.50 v-3.50 M601.00 1.50 v3.50 M616.28 237.50 v-2.40 M616.28 1.50 v2.40 M631.56 237.50 v-2.40 M631.56 1.50 v2.40 M646.84 237.50 v-2.40 M646.84 1.50 v2.40 M662.12 237.50 v-2.40 M662.12 1.50 v2.40 M677.40 237.50 v-3.50 M677.40 1.50 v3.50 M692.68 237.50 v-2.40 M692.68 1.50 v2.40 M707.96 237.50 v-2.40 M707.96 1.50 v2.40 M723.24 237.50 v-2.40 M723.24 1.50 v2.40 M738.52 237.50 v-2.40 M738.52 1.50 v2.40 M753.80 237.50 v-3.50 M753.80 1.50 v3.50 M769.08 237.50 v-2.40 M769.08 1.50 v2.40 M784.36 237.50 v-2.40 M784.36 1.50 v2.40 M799.64 237.50 v-2.40 M799.64 1.50 v2.40 M814.92 237.50 v-2.40 M814.92 1.50 v2.40 M447.50 230.23 h2.40 M829.50 230.23 h-2.40 M447.50 222.97 h2.40 M829.50 222.97 h-2.40 M447.50 215.70 h2.40 M829.50 215.70 h-2.40 M447.50 208.44 h2.40 M829.50 208.44 h-2.40 M447.50 201.17 h3.50 M829.50 201.17 h-3.50 M447.50 193.90 h2.40 M829.50 193.90 h-2.40 M447.50 186.64 h2.40 M829.50 186.64 h-2.40 M447.50 179.37 h2.40 M829.50 179.37 h-2.40 M447.50 172.11 h2.40 M829.50 172.11 h-2.40 M447.50 164.84 h3.50 M829.50 164.84 h-3.50 M447.50 157.57 h2.40 M829.50 157.57 h-2.40 M447.50 150.31 h2.40 M829.50 150.31 h-2.40 M447.50 143.04 h2.40 M829.50 143.04 h-2.40 M447.50 135.78 h2.40 M829.50 135.78 h-2.40 M447.50 128.51 h3.50 M829.50 128.51 h-3.50 M447.50 121.24 h2.40 M829.50 121.24 h-2.40 M447.50 113.98 h2.40 M829.50 113.98 h-2.40 M447.50 106.71 h2.40 M829.50 106.71 h-2.40 M447.50 99.45 h2.40 M829.50 99.45 h-2.40 M447.50 92.18 h3.50 M829.50 92.18 h-3.50 M447.50 84.91 h2.40 M829.50 84.91 h-2.40 M447.50 77.65 h2.40 M829.50 77.65 h-2.40 M447.50 70.38 h2.40 M829.50 70.38 h-2.40 M447.50 63.12 h2.40 M829.50 63.12 h-2.40 M447.50 55.85 h3.50 M829.50 55.85 h-3.50 M447.50 48.58 h2.40 M829.50 48.58 h-2.40 M447.50 41.32 h2.40 M829.50 41.32 h-2.40 M447.50 34.05 h2.40 M829.50 34.05 h-2.40 M447.50 26.79 h2.40 M829.50 26.79 h-2.40 M447.50 19.52 h3.50 M829.50 19.52 h-3.50 M447.50 12.25 h2.40 M829.50 12.25 h-2.40 M447.50 4.99 h2.40 M829.50 4.99 h-2.40" stroke="#000" stroke-width="0.95" fill="none"/>
<g font-family="'Liberation Sans', sans-serif" font-size="11.6px" fill="#000">
<text transform="rotate(0.03 39.60 250)" x="39.60" y="250.5" text-anchor="middle">0</text>
<text transform="rotate(0.03 90.70 250)" x="90.70" y="250.5" text-anchor="middle">2</text>
<text transform="rotate(0.03 141.80 250)" x="141.80" y="250.5" text-anchor="middle">4</text>
<text transform="rotate(0.03 192.90 250)" x="192.90" y="250.5" text-anchor="middle">6</text>
<text transform="rotate(0.03 244.00 250)" x="244.00" y="250.5" text-anchor="middle">8</text>
<text transform="rotate(0.03 295.10 250)" x="295.10" y="250.5" text-anchor="middle">10</text>
<text transform="rotate(0.03 346.20 250)" x="346.20" y="250.5" text-anchor="middle">12</text>
<text transform="rotate(0.03 397.30 250)" x="397.30" y="250.5" text-anchor="middle">14</text>
<text transform="rotate(0.03 30 237.50)" x="36.8" y="241.60" text-anchor="end">0.0</text>
<text transform="rotate(0.03 30 189.76)" x="36.8" y="193.86" text-anchor="end">0.2</text>
<text transform="rotate(0.03 30 142.02)" x="36.8" y="146.12" text-anchor="end">0.4</text>
<text transform="rotate(0.03 30 94.28)" x="36.8" y="98.38" text-anchor="end">0.6</text>
<text transform="rotate(0.03 30 46.54)" x="36.8" y="50.64" text-anchor="end">0.8</text>
<text transform="rotate(0.03 448.20 250)" x="448.20" y="250.5" text-anchor="middle">0.0</text>
<text transform="rotate(0.03 524.60 250)" x="524.60" y="250.5" text-anchor="middle">0.5</text>
<text transform="rotate(0.03 601.00 250)" x="601.00" y="250.5" text-anchor="middle">1.0</text>
<text transform="rotate(0.03 677.40 250)" x="677.40" y="250.5" text-anchor="middle">1.5</text>
<text transform="rotate(0.03 753.80 250)" x="753.80" y="250.5" text-anchor="middle">2.0</text>
<text transform="rotate(0.03 438 237.50)" x="444.6" y="241.60" text-anchor="end">0.0</text>
<text transform="rotate(0.03 438 201.17)" x="444.6" y="205.27" text-anchor="end">0.1</text>
<text transform="rotate(0.03 438 164.84)" x="444.6" y="168.94" text-anchor="end">0.2</text>
<text transform="rotate(0.03 438 128.51)" x="444.6" y="132.61" text-anchor="end">0.3</text>
<text transform="rotate(0.03 438 92.18)" x="444.6" y="96.28" text-anchor="end">0.4</text>
<text transform="rotate(0.03 438 55.85)" x="444.6" y="59.95" text-anchor="end">0.5</text>
<text transform="rotate(0.03 438 19.52)" x="444.6" y="23.62" text-anchor="end">0.6</text>
</g>
<g class="s" font-family="'Liberation Serif', serif" fill="#000">
<text transform="translate(12.7,173.3) rotate(-89.97)" font-size="18.4px"><tspan x="0" y="0" font-style="italic" font-size="19px">C</tspan><tspan x="12.86" y="2.5" font-size="21.9px">−</tspan><tspan x="25.05" y="0" letter-spacing="0.12">Function</tspan></text>
<text transform="rotate(0.03 425 272)" font-size="18px" font-style="italic"><tspan x="398.5" y="272.7">μ</tspan><tspan font-size="12.5px" x="409.0" y="266.1" font-style="normal">2</tspan><tspan x="420.6" y="274.7" font-size="20px" font-style="normal">/</tspan><tspan x="430.9" y="272.7">m</tspan><tspan font-size="12.5px" x="444.9" y="265.7" font-style="normal">2</tspan></text>
<text transform="rotate(0.03 630 20)" x="598.4" y="20.64" font-size="18.9px" letter-spacing="-0.05">Zoom In</text>
<path d="M315.20 106.35 L318.81 112.94 L311.59 112.94 Z" fill="#ff8000"/>
<text transform="rotate(0.03 359.30 113.90)" font-size="15px"><tspan x="329.40" y="113.90" font-size="15.8px">Δ</tspan><tspan x="340.30" y="116.50" font-size="11px">max</tspan><tspan x="364.30" y="115.40" font-size="15.6px">=</tspan></text><text transform="translate(378.90 113.90) rotate(0.03) scale(1,1.075)" font-size="15.2px">16</text>
<path d="M315.20 136.39 L319.27 140.20 L315.20 144.01 L311.13 140.20 Z" fill="#00aa00"/>
<text transform="rotate(0.03 359.30 143.90)" font-size="15px"><tspan x="329.40" y="143.90" font-size="15.8px">Δ</tspan><tspan x="340.30" y="146.50" font-size="11px">max</tspan><tspan x="364.30" y="145.40" font-size="15.6px">=</tspan></text><text transform="translate(378.90 143.90) rotate(0.03) scale(1,1.075)" font-size="15.2px">24</text>
<rect x="312.47" y="166.27" width="5.67" height="5.67" fill="#ff0000"/>
<text transform="rotate(0.03 359.30 173.90)" font-size="15px"><tspan x="329.40" y="173.90" font-size="15.8px">Δ</tspan><tspan x="340.30" y="176.50" font-size="11px">max</tspan><tspan x="364.30" y="175.40" font-size="15.6px">=</tspan></text><text transform="translate(378.90 173.90) rotate(0.03) scale(1,1.075)" font-size="15.2px">30</text>
<circle cx="314.90" cy="199.50" r="3.40" fill="#0000ff"/>
<text transform="rotate(0.03 359.30 203.90)" font-size="15px"><tspan x="329.40" y="203.90" font-size="15.8px">Δ</tspan><tspan x="340.30" y="206.50" font-size="11px">max</tspan><tspan x="364.30" y="205.40" font-size="15.6px">=</tspan></text><text transform="translate(378.90 203.90) rotate(0.03) scale(1,1.075)" font-size="15.2px">34</text>
<path d="M464.30 21.75 L467.91 28.34 L460.69 28.34 Z" fill="#ff8000"/>
<text transform="rotate(0.03 508.15 28.40)" font-size="15px"><tspan x="478.25" y="28.40" font-size="15.8px">Δ</tspan><tspan x="489.15" y="31.00" font-size="11px">max</tspan><tspan x="513.15" y="29.90" font-size="15.6px">=</tspan></text><text transform="translate(527.75 28.40) rotate(0.03) scale(1,1.075)" font-size="15.2px">16</text>
<path d="M464.10 51.29 L468.17 55.10 L464.10 58.91 L460.03 55.10 Z" fill="#00aa00"/>
<text transform="rotate(0.03 508.15 59.20)" font-size="15px"><tspan x="478.25" y="59.20" font-size="15.8px">Δ</tspan><tspan x="489.15" y="61.80" font-size="11px">max</tspan><tspan x="513.15" y="60.70" font-size="15.6px">=</tspan></text><text transform="translate(527.75 59.20) rotate(0.03) scale(1,1.075)" font-size="15.2px">24</text>
<rect x="461.47" y="81.07" width="5.67" height="5.67" fill="#ff0000"/>
<text transform="rotate(0.03 508.15 89.20)" font-size="15px"><tspan x="478.25" y="89.20" font-size="15.8px">Δ</tspan><tspan x="489.15" y="91.80" font-size="11px">max</tspan><tspan x="513.15" y="90.70" font-size="15.6px">=</tspan></text><text transform="translate(527.75 89.20) rotate(0.03) scale(1,1.075)" font-size="15.2px">30</text>
<circle cx="463.70" cy="114.10" r="3.40" fill="#0000ff"/>
<text transform="rotate(0.03 508.15 118.50)" font-size="15px"><tspan x="478.25" y="118.50" font-size="15.8px">Δ</tspan><tspan x="489.15" y="121.10" font-size="11px">max</tspan><tspan x="513.15" y="120.00" font-size="15.6px">=</tspan></text><text transform="translate(527.75 118.50) rotate(0.03) scale(1,1.075)" font-size="15.2px">34</text>
</g>
</svg>
</body></html>
